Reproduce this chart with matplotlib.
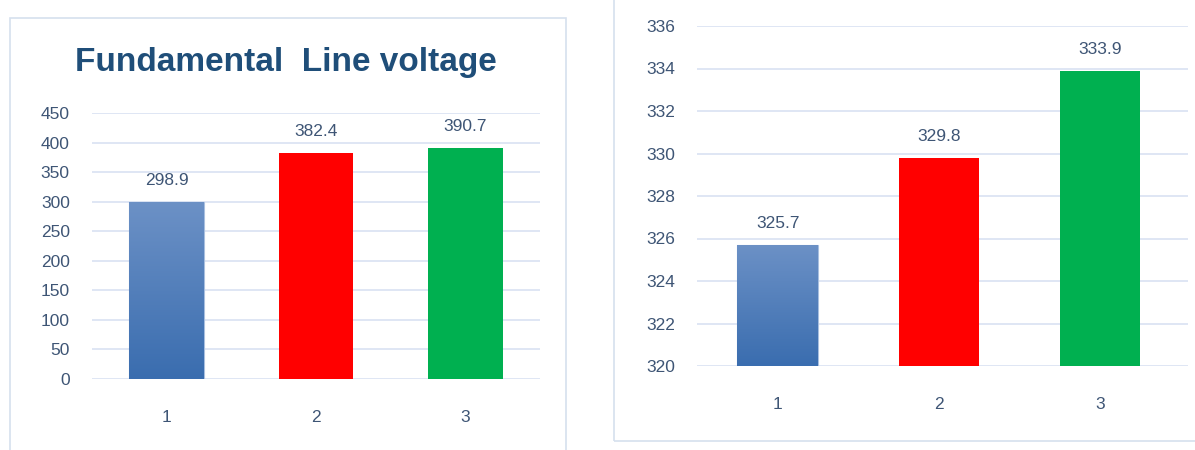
import numpy as np
import matplotlib
matplotlib.use("Agg")
import matplotlib.pyplot as plt
from matplotlib.patches import Rectangle
from matplotlib.colors import LinearSegmentedColormap

categories = ["1", "2", "3"]
left_values = [298.9, 382.4, 390.7]
right_values = [325.7, 329.8, 333.9]
left_ticks = [0, 50, 100, 150, 200, 250, 300, 350, 400, 450]
right_ticks = [320, 322, 324, 326, 328, 330, 332, 334, 336]

bar_colors = ["#4A7BBE", "#FF0000", "#00B050"]
text_color = "#3E5575"
grid_color = "#D9E2F2"
border_color = "#D6E0EE"

plt.rcParams["font.family"] = ["Liberation Sans", "DejaVu Sans"]

W, H = 1195, 450
fig = plt.figure(figsize=(W / 100, H / 100), dpi=100)


def fx(px):
    return px / W


def fy(py):
    return 1 - py / H


# panel borders
fig.patches.append(Rectangle((fx(10), fy(470)), fx(556), (470 - 18) / H, transform=fig.transFigure,
                             fill=False, edgecolor=border_color, lw=1.2))
fig.patches.append(Rectangle((fx(614), fy(441)), fx(700), (441 + 20) / H, transform=fig.transFigure,
                             fill=False, edgecolor=border_color, lw=1.2))


def draw_panel(ax, values, ticks, ylim):
    x = np.arange(len(categories))
    bars = ax.bar(x, values, width=0.5, color=bar_colors, zorder=2, edgecolor="none")
    # gradient on first bar
    b = bars[0]
    b.set_facecolor("none")
    grad = np.linspace(0, 1, 256).reshape(-1, 1)
    cmap = LinearSegmentedColormap.from_list("g", ["#3A6DAF", "#6C91C6"])
    im = ax.imshow(grad, cmap=cmap, aspect="auto", origin="lower",
                   extent=[b.get_x(), b.get_x() + b.get_width(), ylim[0], b.get_height()],
                   zorder=2)
    im.set_clip_path(b)
    b.set_edgecolor("#A8BFDF")
    b.set_linewidth(0.8)
    for xi, v in zip(x, values):
        ax.annotate(f"{v:.1f}", (xi, v), xytext=(0, 10), textcoords="offset points",
                    ha="center", va="bottom", fontsize=12.5, color=text_color)
    ax.set_xlim(-0.5, len(categories) - 0.5)
    ax.set_ylim(*ylim)
    ax.set_yticks(ticks)
    ax.set_xticks(x)
    ax.set_xticklabels(categories)
    ax.grid(axis="y", color=grid_color, lw=1.2, zorder=0)
    ax.set_axisbelow(True)
    for s in ax.spines.values():
        s.set_visible(False)
    ax.tick_params(length=0, labelsize=12.5, labelcolor=text_color)
    ax.tick_params(axis="y", pad=16)
    ax.tick_params(axis="x", pad=22)


ax1 = fig.add_axes([fx(92), fy(379), fx(448), (379 - 113) / H])
draw_panel(ax1, left_values, left_ticks, (0, 450))
fig.text(fx(286), fy(62), "Fundamental  Line voltage", ha="center", va="center",
         fontsize=24, fontweight="bold", color="#1F4E79")

ax2 = fig.add_axes([fx(697), fy(366), fx(491), (366 - 26) / H])
draw_panel(ax2, right_values, right_ticks, (320, 336))
ax2.set_xlim(-0.5, 2.545)

fig.savefig("out.png", dpi=100)
